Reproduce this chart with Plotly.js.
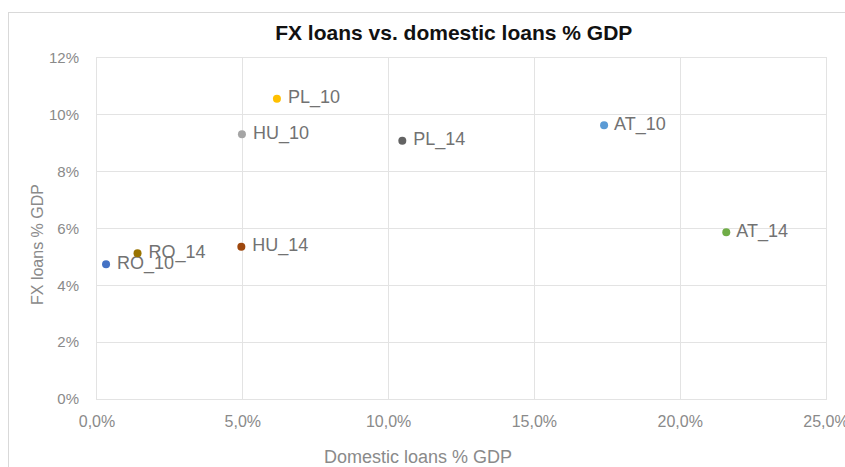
<!DOCTYPE html>
<html>
<head>
<meta charset="utf-8">
<script src="https://cdn.plot.ly/plotly-3.0.1.min.js"></script>
<style>
html,body{margin:0;padding:0;background:#fff;overflow:hidden;}
#wrap{position:relative;width:845px;height:467px;overflow:hidden;}
#chart{width:845px;height:467px;}
#frame{position:absolute;left:8px;top:12px;width:850px;height:470px;border:1px solid #d9d9d9;pointer-events:none;box-sizing:border-box;}
</style>
</head>
<body>
<div id="wrap"><div id="chart"></div><div id="frame"></div></div>
<script>
const labels = ["RO_10","RO_14","HU_14","HU_10","PL_10","PL_14","AT_10","AT_14"];
const domesticLoans = [0.31, 1.39, 4.95, 4.97, 6.17, 10.47, 17.39, 21.58];
const fxLoans = [4.74, 5.13, 5.36, 9.32, 10.57, 9.09, 9.63, 5.87];
const colors = ["#4472C4","#997300","#9E480E","#A5A5A5","#FFC000","#636363","#5B9BD5","#70AD47"];
const xTickVals = [0,5,10,15,20,25];
const xTickText = ["0,0%","5,0%","10,0%","15,0%","20,0%","25,0%"];
const yTickVals = [0,2,4,6,8,10,12];
const yTickText = ["0%","2%","4%","6%","8%","10%","12%"];

const font = "Liberation Sans, Arial, sans-serif";
const traces = labels.map((l,i)=>({
  type:"scatter", mode:"markers+text",
  x:[domesticLoans[i]], y:[fxLoans[i]], text:[" "+l],
  textposition:"middle right",
  textfont:{family:font,size:18,color:"#727272"},
  marker:{size:8,color:colors[i]},
  cliponaxis:false, showlegend:false, hoverinfo:"skip"
}));

const layout = {
  width:845, height:467,
  margin:{l:97,r:19,t:58,b:68},
  paper_bgcolor:"#fff", plot_bgcolor:"#fff",
  font:{family:font,color:"#8a8a8a",size:15},
  title:{text:"<b>FX loans vs. domestic loans % GDP</b>", x:0.537, xanchor:"center", y:0.93, yanchor:"middle",
         font:{family:font,size:21,color:"#111"}},
  xaxis:{range:[0,25], tickmode:"array", tickvals:xTickVals, ticktext:xTickText,
         showgrid:true, gridcolor:"#e3e3e3", zeroline:false, showline:true, mirror:true, linecolor:"#e3e3e3",
         ticks:"", ticklabelstandoff:8, ticklabeloverflow:"allow", tickfont:{size:16,color:"#8a8a8a"}, fixedrange:true},
  yaxis:{range:[0,12], tickmode:"array", tickvals:yTickVals, ticktext:yTickText,
         showgrid:true, gridcolor:"#e3e3e3", zeroline:false, showline:true, mirror:true, linecolor:"#e3e3e3",
         ticks:"", ticklabelstandoff:14, ticklabeloverflow:"allow", tickfont:{size:15,color:"#8a8a8a"}, fixedrange:true},
  annotations:[
    {text:"Domestic loans % GDP", xref:"paper", yref:"paper", x:(418-97)/729, y:-(457-399)/341,
     xanchor:"center", yanchor:"middle", showarrow:false, font:{family:font,size:18,color:"#8a8a8a"}},
    {text:"FX loans % GDP", xref:"paper", yref:"paper", x:-(97-38)/729, y:(399-245)/341, textangle:-90,
     xanchor:"center", yanchor:"middle", showarrow:false, font:{family:font,size:16,color:"#8a8a8a"}}
  ]
};
Plotly.newPlot("chart", traces, layout, {displayModeBar:false, staticPlot:true});
</script>
</body>
</html>
